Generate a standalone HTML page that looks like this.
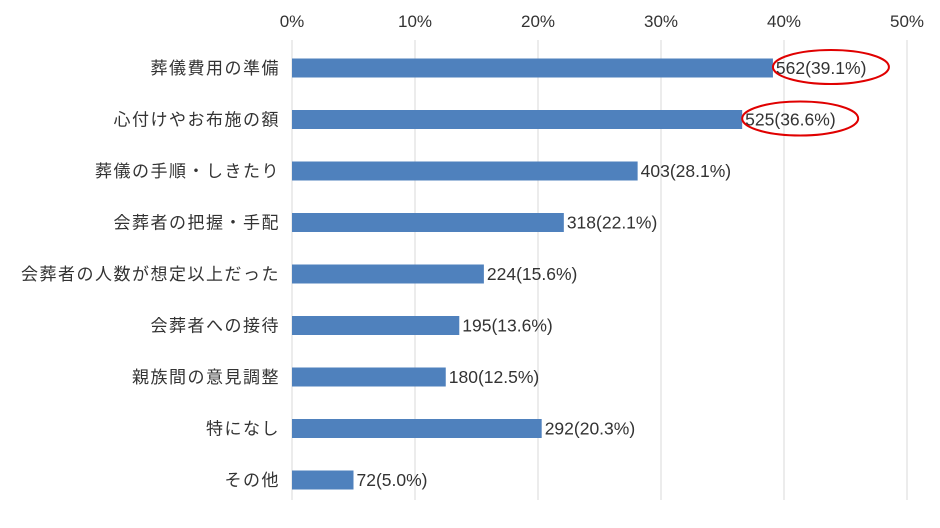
<!DOCTYPE html>
<html><head><meta charset="utf-8"><style>
html,body{margin:0;padding:0;background:#fff;}
svg text{font-family:"Liberation Sans","Noto Sans CJK JP",sans-serif;fill:#333;}
</style></head><body>
<svg id="chart" width="940" height="523" viewBox="0 0 940 523" xmlns="http://www.w3.org/2000/svg"></svg>
<script>
const categories=["葬儀費用の準備","心付けやお布施の額","葬儀の手順・しきたり","会葬者の把握・手配","会葬者の人数が想定以上だった","会葬者への接待","親族間の意見調整","特になし","その他"];
const counts=[562,525,403,318,224,195,180,292,72];
const percents=[39.1,36.6,28.1,22.1,15.6,13.6,12.5,20.3,5.0];
const ticks=[0,10,20,30,40,50];
const highlighted=[0,1];
const NS="http://www.w3.org/2000/svg";
const svg=document.getElementById('chart');
const x0=292,xPer=12.3,yTop=68,yStep=51.5,barH=19;
const xs=v=>x0+v*xPer;
const yc=i=>yTop+i*yStep;
function mk(tag,attrs){const e=document.createElementNS(NS,tag);for(const k in attrs)e.setAttribute(k,attrs[k]);svg.appendChild(e);return e;}
ticks.forEach(t=>{
  const g=mk('line',{x1:xs(t),x2:xs(t),y1:40,y2:500,stroke:'#d9d9d9','stroke-width':1});
  
  
  const l=mk('text',{x:xs(t),y:27,'text-anchor':'middle','font-size':17});
  l.textContent=t+'%';
  
  
});
categories.forEach((c,i)=>{
  const y=yc(i);
  const lab=mk('text',{x:280,y:y+6,'text-anchor':'end','font-size':17,'letter-spacing':1.5});
  lab.textContent=c;
  
  
  const b=mk('rect',{x:x0,y:y-barH/2,width:xs(percents[i])-x0,height:barH,fill:'#4f81bd'});
  
  
  const v=mk('text',{x:xs(percents[i])+3,y:y+6,'font-size':17.5});
  v.textContent=counts[i]+'('+percents[i].toFixed(1)+'%)';
  
  
  if(highlighted.includes(i)){
    const e=mk('ellipse',{cx:xs(percents[i])+58,cy:y-1,rx:58,ry:17,fill:'none',stroke:'#e00000','stroke-width':2});
    
    
  }
});
</script>
</body></html>
